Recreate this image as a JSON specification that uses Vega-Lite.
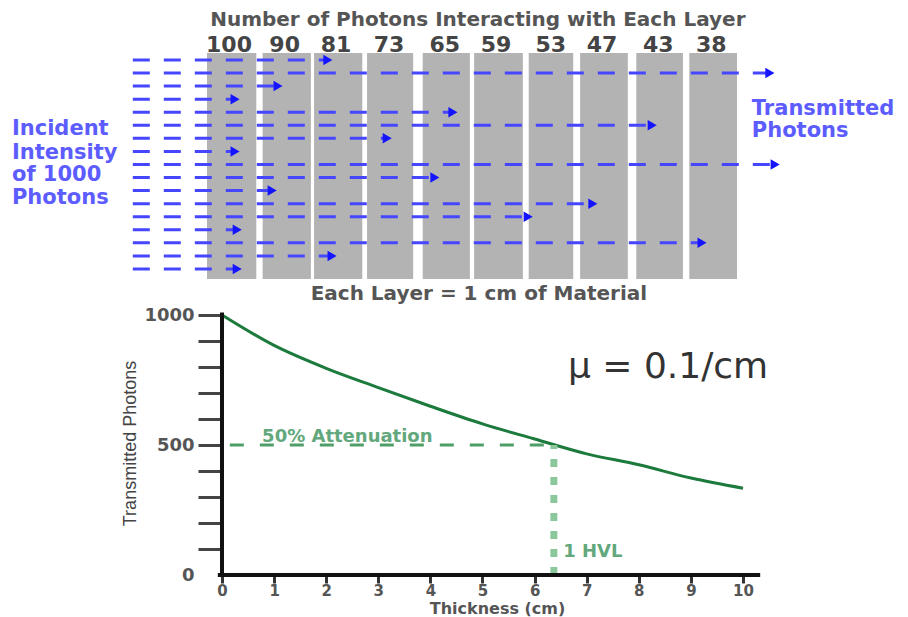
{
  "$schema": "https://vega.github.io/schema/vega-lite/v6.json",
  "width": 908,
  "height": 617,
  "autosize": {"type": "none"},
  "padding": 0,
  "background": "white",
  "config": {"view": {"stroke": null}, "font": "DejaVu Sans"},
  "datasets": {
    "layers": [
      {"layer": 1, "start": 0.0, "end": 0.93, "interacting": 100},
      {"layer": 2, "start": 1.05, "end": 1.96, "interacting": 90},
      {"layer": 3, "start": 2.02, "end": 2.93, "interacting": 81},
      {"layer": 4, "start": 3.02, "end": 3.89, "interacting": 73},
      {"layer": 5, "start": 4.07, "end": 4.96, "interacting": 65},
      {"layer": 6, "start": 5.04, "end": 5.96, "interacting": 59},
      {"layer": 7, "start": 6.07, "end": 6.91, "interacting": 53},
      {"layer": 8, "start": 7.04, "end": 7.94, "interacting": 47},
      {"layer": 9, "start": 8.1, "end": 8.98, "interacting": 43},
      {"layer": 10, "start": 9.1, "end": 10.0, "interacting": 38}
    ],
    "rays": [
      {"row": 1, "start": -1.4, "stop": 2.28},
      {"row": 2, "start": -1.4, "stop": 10.62},
      {"row": 3, "start": -1.4, "stop": 1.34},
      {"row": 4, "start": -1.4, "stop": 0.53},
      {"row": 5, "start": -1.4, "stop": 4.64},
      {"row": 6, "start": -1.4, "stop": 8.4},
      {"row": 7, "start": -1.4, "stop": 3.4},
      {"row": 8, "start": -1.4, "stop": 0.53},
      {"row": 9, "start": -1.4, "stop": 10.72},
      {"row": 10, "start": -1.4, "stop": 4.3},
      {"row": 11, "start": -1.4, "stop": 1.23},
      {"row": 12, "start": -1.4, "stop": 7.28},
      {"row": 13, "start": -1.4, "stop": 6.06},
      {"row": 14, "start": -1.4, "stop": 0.57},
      {"row": 15, "start": -1.4, "stop": 9.34},
      {"row": 16, "start": -1.4, "stop": 2.36},
      {"row": 17, "start": -1.4, "stop": 0.57}
    ],
    "grayText": [
      {"text": "Number of Photons Interacting with Each Layer", "x": 5.11, "row": -2.1},
      {"text": "Each Layer = 1 cm of Material", "x": 5.13, "row": 18.92}
    ],
    "blueText": [
      {"text": "Incident", "x": -3.68, "row": 6.3},
      {"text": "Intensity", "x": -3.68, "row": 8.12},
      {"text": "of 1000", "x": -3.68, "row": 9.81},
      {"text": "Photons", "x": -3.68, "row": 11.6},
      {"text": "Transmitted", "x": 10.28, "row": 4.79},
      {"text": "Photons", "x": 10.28, "row": 6.47}
    ],
    "curve": [
      {"thickness": 0, "photons": 1000},
      {"thickness": 1, "photons": 883},
      {"thickness": 2, "photons": 795},
      {"thickness": 3, "photons": 721},
      {"thickness": 4, "photons": 649},
      {"thickness": 5, "photons": 581},
      {"thickness": 6, "photons": 523},
      {"thickness": 7, "photons": 466},
      {"thickness": 8, "photons": 424},
      {"thickness": 9, "photons": 373},
      {"thickness": 10, "photons": 334}
    ],
    "half": [{"t0": 0.15, "t1": 6.37, "photons": 500}],
    "hvl": [{"thickness": 6.37, "p0": 0, "p1": 500}],
    "xLine": [{"t0": -0.08, "t1": 10.33, "photons": 0}],
    "yLine": [{"thickness": 0, "p0": 0, "p1": 1010}],
    "greenText": [
      {"text": "50% Attenuation", "thickness": 0.77, "photons": 531},
      {"text": "1 HVL", "thickness": 6.55, "photons": 88}
    ],
    "mu": [{"text": "μ = 0.1/cm", "thickness": 6.64, "photons": 800}]
  },
  "layer": [
    {
      "layer": [
        {
          "data": {"name": "layers"},
          "mark": {"type": "rect", "fill": "#b3b3b3"},
          "encoding": {
            "x": {"field": "start", "type": "quantitative", "axis": null, "scale": {"domain": [-3.9057, 13.2264], "nice": false, "zero": false}},
            "x2": {"field": "end"},
            "y": {"datum": 0.46, "type": "quantitative", "axis": null, "scale": {"domain": [-3.594, 43.65], "nice": false, "zero": false, "reverse": true}},
            "y2": {"datum": 17.77}
          }
        },
        {
          "data": {"name": "layers"},
          "mark": {"type": "text", "font": "DejaVu Sans", "fontWeight": "bold", "fontSize": 22, "color": "#444444", "baseline": "middle", "align": "center"},
          "encoding": {
            "x": {"field": "start", "type": "quantitative", "axis": null, "scale": {"domain": [-3.9057, 13.2264], "nice": false, "zero": false}},
            "xOffset": {"value": 22},
            "y": {"datum": -0.15, "type": "quantitative", "axis": null, "scale": {"domain": [-3.594, 43.65], "nice": false, "zero": false, "reverse": true}},
            "text": {"field": "interacting"}
          }
        },
        {
          "data": {"name": "rays"},
          "mark": {"type": "rule", "color": "#4646ff", "strokeWidth": 3, "strokeDash": [17, 14]},
          "encoding": {
            "x": {"field": "start", "type": "quantitative", "axis": null, "scale": {"domain": [-3.9057, 13.2264], "nice": false, "zero": false}},
            "x2": {"field": "stop"},
            "y": {"field": "row", "type": "quantitative", "axis": null, "scale": {"domain": [-3.594, 43.65], "nice": false, "zero": false, "reverse": true}}
          }
        },
        {
          "data": {"name": "rays"},
          "mark": {"type": "point", "shape": "triangle-right", "filled": true, "size": 110, "color": "#1414ff", "opacity": 1},
          "encoding": {
            "x": {"field": "stop", "type": "quantitative", "axis": null, "scale": {"domain": [-3.9057, 13.2264], "nice": false, "zero": false}},
            "y": {"field": "row", "type": "quantitative", "axis": null, "scale": {"domain": [-3.594, 43.65], "nice": false, "zero": false, "reverse": true}}
          }
        },
        {
          "data": {"name": "grayText"},
          "mark": {"type": "text", "font": "DejaVu Sans", "fontWeight": "bold", "fontSize": 20, "color": "#555555", "baseline": "middle", "align": "center"},
          "encoding": {
            "x": {"field": "x", "type": "quantitative", "axis": null, "scale": {"domain": [-3.9057, 13.2264], "nice": false, "zero": false}},
            "y": {"field": "row", "type": "quantitative", "axis": null, "scale": {"domain": [-3.594, 43.65], "nice": false, "zero": false, "reverse": true}},
            "text": {"field": "text"}
          }
        },
        {
          "data": {"name": "blueText"},
          "mark": {"type": "text", "font": "DejaVu Sans", "fontWeight": "bold", "fontSize": 21, "color": "#5c5cff", "baseline": "middle", "align": "left"},
          "encoding": {
            "x": {"field": "x", "type": "quantitative", "axis": null, "scale": {"domain": [-3.9057, 13.2264], "nice": false, "zero": false}},
            "y": {"field": "row", "type": "quantitative", "axis": null, "scale": {"domain": [-3.594, 43.65], "nice": false, "zero": false, "reverse": true}},
            "text": {"field": "text"}
          }
        }
      ]
    },
    {
      "layer": [
        {
          "data": {"name": "curve"},
          "mark": {"type": "line", "color": "#1c7a3c", "strokeWidth": 3, "interpolate": "monotone"},
          "encoding": {
            "x": {
              "field": "thickness", "type": "quantitative",
              "scale": {"domain": [-4.261, 13.167], "nice": false, "zero": false},
              "axis": {
                "orient": "bottom", "offset": -42, "values": [0, 1, 2, 3, 4, 5, 6, 7, 8, 9, 10],
                "domain": false, "grid": false,
                "tickSize": 8, "tickWidth": 3, "tickColor": "#333333",
                "labelFont": "DejaVu Sans", "labelFontWeight": "bold", "labelFontSize": 15, "labelColor": "#555555", "labelPadding": 0,
                "title": "Thickness (cm)", "titleFont": "DejaVu Sans", "titleFontWeight": "bold", "titleFontSize": 16, "titleColor": "#555555",
                "titleX": 497, "titleY": 33, "titleBaseline": "middle", "titleAlign": "center"
              }
            },
            "y": {
              "field": "photons", "type": "quantitative",
              "scale": {"domain": [-161.5, 2211.5], "nice": false, "zero": false},
              "axis": {
                "orient": "left", "offset": -222, "values": [0, 100, 200, 300, 400, 500, 600, 700, 800, 900, 1000],
                "format": "d",
                "labelExpr": "datum.value % 500 === 0 ? datum.label : ''",
                "domain": false, "grid": false,
                "tickSize": 24, "tickWidth": 3, "tickColor": "#444444",
                "tickOpacity": {"condition": {"test": "datum.value === 0", "value": 0}, "value": 1},
                "labelFont": "DejaVu Sans", "labelFontWeight": "bold", "labelFontSize": 18, "labelColor": "#555555", "labelPadding": 4,
                "title": "Transmitted Photons", "titleFont": "Liberation Sans", "titleFontWeight": "normal", "titleFontSize": 18, "titleColor": "#444444",
                "titleX": -92, "titleY": 443, "titleAngle": 270, "titleBaseline": "middle", "titleAlign": "center"
              }
            }
          }
        },
        {
          "data": {"name": "half"},
          "mark": {"type": "rule", "color": "#4f9e68", "strokeWidth": 3, "strokeDash": [14, 16]},
          "encoding": {
            "x": {"field": "t0", "type": "quantitative"},
            "x2": {"field": "t1"},
            "y": {"field": "photons", "type": "quantitative"}
          }
        },
        {
          "data": {"name": "hvl"},
          "mark": {"type": "rule", "color": "#8cc89c", "strokeWidth": 7, "strokeDash": [8, 10]},
          "encoding": {
            "x": {"field": "thickness", "type": "quantitative"},
            "y": {"field": "p0", "type": "quantitative"},
            "y2": {"field": "p1"}
          }
        },
        {
          "data": {"name": "xLine"},
          "mark": {"type": "rule", "color": "#111111", "strokeWidth": 4},
          "encoding": {
            "x": {"field": "t0", "type": "quantitative"},
            "x2": {"field": "t1"},
            "y": {"field": "photons", "type": "quantitative"}
          }
        },
        {
          "data": {"name": "yLine"},
          "mark": {"type": "rule", "color": "#111111", "strokeWidth": 4},
          "encoding": {
            "x": {"field": "thickness", "type": "quantitative"},
            "y": {"field": "p0", "type": "quantitative"},
            "y2": {"field": "p1"}
          }
        },
        {
          "data": {"name": "greenText"},
          "mark": {"type": "text", "font": "DejaVu Sans", "fontWeight": "bold", "fontSize": 18, "color": "#62a87c", "align": "left", "baseline": "middle"},
          "encoding": {
            "x": {"field": "thickness", "type": "quantitative"},
            "y": {"field": "photons", "type": "quantitative"},
            "text": {"field": "text"}
          }
        },
        {
          "data": {"name": "mu"},
          "mark": {"type": "text", "font": "DejaVu Sans", "fontSize": 36, "color": "#333333", "align": "left", "baseline": "middle"},
          "encoding": {
            "x": {"field": "thickness", "type": "quantitative"},
            "y": {"field": "photons", "type": "quantitative"},
            "text": {"field": "text"}
          }
        }
      ]
    }
  ],
  "resolve": {"scale": {"x": "independent", "y": "independent"}}
}
